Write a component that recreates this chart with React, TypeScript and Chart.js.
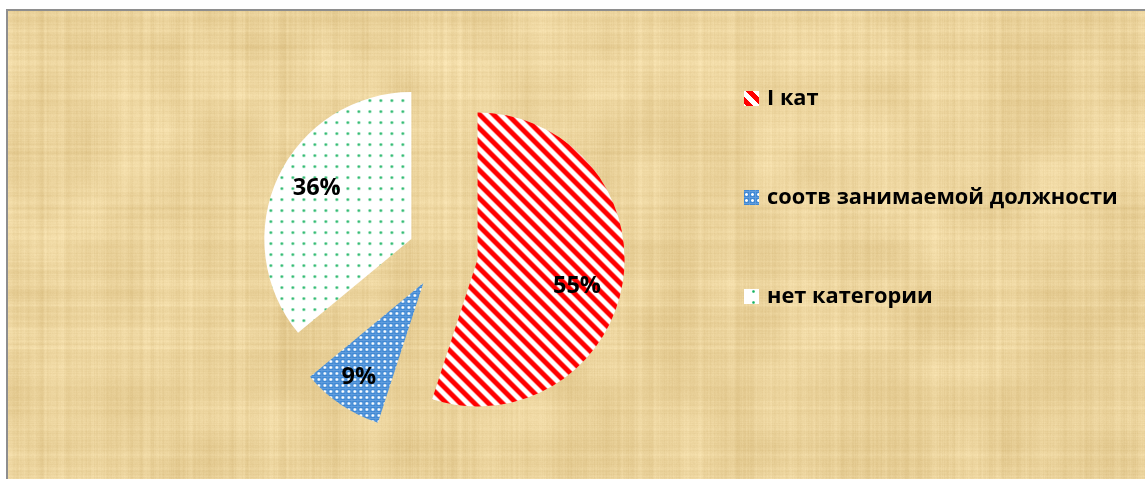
import { useEffect, useRef } from 'react';
import { Chart, registerables } from 'chart.js';

Chart.register(...registerables);

// ---- data ----
const categories = ['I кат', 'соотв занимаемой должности', 'нет категории'];
const shares = [55, 9, 36];
const percentLabels = ['55%', '9%', '36%'];

// ---- style constants ----
const W = 1145;
const H = 479;
const EXPLODE = 35;
const RADIUS = 147;
const LABEL_RADIUS = [0.7, 0.78, 0.73];
const LABEL_ANGLE_SHIFT = [6, 0, 3];
const LEGEND_Y = [99, 198, 297];
const LEGEND_X = 744;
const LEGEND_TEXT_X = 767;
const LEGEND_FONT = "bold 21.8px 'Open Sans'";
const LABEL_FONT = "bold 23.5px 'Open Sans'";

function makeRng(seed: number) {
  let s = seed >>> 0;
  return () => {
    s = (Math.imul(s, 1664525) + 1013904223) >>> 0;
    return s / 4294967296;
  };
}

function makeTile(size: number, fn: (x: number, y: number) => [number, number, number]) {
  const c = document.createElement('canvas');
  c.width = size;
  c.height = size;
  const g = c.getContext('2d')!;
  const img = g.createImageData(size, size);
  for (let y = 0; y < size; y++) {
    for (let x = 0; x < size; x++) {
      const [r, gg, b] = fn(x, y);
      const i = (y * size + x) * 4;
      img.data[i] = r;
      img.data[i + 1] = gg;
      img.data[i + 2] = b;
      img.data[i + 3] = 255;
    }
  }
  g.putImageData(img, 0, 0);
  return c;
}

function mix(a: [number, number, number], b: [number, number, number], t: number): [number, number, number] {
  return [a[0] + (b[0] - a[0]) * t, a[1] + (b[1] - a[1]) * t, a[2] + (b[2] - a[2]) * t];
}

function makePatterns(ctx: CanvasRenderingContext2D) {
  const white: [number, number, number] = [255, 255, 255];
  const red: [number, number, number] = [255, 0, 0];
  const P = 14;
  const stripe = makeTile(P, (x, y) => {
    const t = (((x - y) % P) + P) % P;
    const d = Math.min(t, P - t);
    const a = Math.max(0, Math.min(1, 4 - d));
    return mix(white, red, a);
  });
  const blue = makeTile(6, (x, y) => {
    const dx = Math.abs(x - 2);
    const dy = Math.abs(y - 2);
    if (dx + dy === 0) return [255, 255, 255];
    if ((dx === 1 && dy === 0) || (dx === 0 && dy === 1)) return [240, 247, 253];
    if (dx === 1 && dy === 1) return [150, 192, 235];
    if (x === 5 || y === 5) return [96, 156, 220];
    return [62, 136, 212];
  });
  const dots = makeTile(11, (x, y) => {
    const dx = Math.abs(x - 5);
    const dy = Math.abs(y - 5);
    if (dx + dy === 0) return [24, 176, 96];
    if (dx + dy === 1) return [80, 198, 136];
    if (dx === 1 && dy === 1) return [170, 228, 196];
    return [255, 255, 255];
  });
  return [
    ctx.createPattern(stripe, 'repeat')!,
    ctx.createPattern(blue, 'repeat')!,
    ctx.createPattern(dots, 'repeat')!,
  ];
}

function makeTexture(w: number, h: number) {
  const c = document.createElement('canvas');
  c.width = w;
  c.height = h;
  const g = c.getContext('2d')!;
  const img = g.createImageData(w, h);
  const rnd = makeRng(20240611);
  const col = new Float32Array(w);
  const row = new Float32Array(h);
  let v = 0;
  for (let x = 0; x < w; x++) {
    v = v * 0.55 + (rnd() - 0.5) * 9;
    col[x] = v;
  }
  v = 0;
  for (let y = 0; y < h; y++) {
    v = v * 0.55 + (rnd() - 0.5) * 9;
    row[y] = v;
  }
  const bs = 40;
  const bw = Math.ceil(w / bs) + 2;
  const bh = Math.ceil(h / bs) + 2;
  const blocks = new Float32Array(bw * bh);
  for (let i = 0; i < blocks.length; i++) blocks[i] = (rnd() - 0.5) * 16;
  for (let y = 0; y < h; y++) {
    const by = y / bs;
    const y0 = Math.floor(by);
    const fy = by - y0;
    for (let x = 0; x < w; x++) {
      const bx = x / bs;
      const x0 = Math.floor(bx);
      const fx = bx - x0;
      const b00 = blocks[y0 * bw + x0];
      const b10 = blocks[y0 * bw + x0 + 1];
      const b01 = blocks[(y0 + 1) * bw + x0];
      const b11 = blocks[(y0 + 1) * bw + x0 + 1];
      const bl = (b00 * (1 - fx) + b10 * fx) * (1 - fy) + (b01 * (1 - fx) + b11 * fx) * fy;
      const d = col[x] + row[y] + bl + (rnd() - 0.5) * 4;
      const i = (y * w + x) * 4;
      img.data[i] = 235 + d * 0.8;
      img.data[i + 1] = 211 + d;
      img.data[i + 2] = 156 + d * 1.3;
      img.data[i + 3] = 255;
    }
  }
  g.putImageData(img, 0, 0);
  return c;
}

export default function App() {
  const ref = useRef<HTMLCanvasElement>(null);

  useEffect(() => {
    const canvas = ref.current!;
    const ctx0 = canvas.getContext('2d')!;
    const patterns = makePatterns(ctx0);
    const texture = makeTexture(W - 7, H - 10);

    const backgroundPlugin = {
      id: 'paperBackground',
      beforeDraw(chart: any) {
        const ctx = chart.ctx as CanvasRenderingContext2D;
        ctx.save();
        ctx.fillStyle = '#ffffff';
        ctx.fillRect(0, 0, W, H);
        ctx.drawImage(texture, 7, 10);
        ctx.fillStyle = '#8e8e8e';
        ctx.fillRect(6, 9, W - 6, 2);
        ctx.fillRect(6, 9, 2, H - 9);
        ctx.restore();
      },
    };

    const explodePlugin = {
      id: 'explodeSlices',
      beforeDatasetDraw(chart: any, args: any) {
        const ctx = chart.ctx as CanvasRenderingContext2D;
        args.meta.data.forEach((arc: any) => {
          const { startAngle, endAngle } = arc.getProps(['startAngle', 'endAngle'], true);
          const mid = (startAngle + endAngle) / 2;
          ctx.save();
          ctx.translate(Math.cos(mid) * EXPLODE, Math.sin(mid) * EXPLODE);
          arc.draw(ctx);
          ctx.restore();
        });
        return false;
      },
      afterDatasetsDraw(chart: any) {
        const ctx = chart.ctx as CanvasRenderingContext2D;
        const meta = chart.getDatasetMeta(0);
        ctx.save();
        ctx.font = LABEL_FONT;
        ctx.fillStyle = '#000000';
        ctx.textAlign = 'center';
        ctx.textBaseline = 'middle';
        meta.data.forEach((arc: any, i: number) => {
          const { x, y, startAngle, endAngle, outerRadius } = arc.getProps(
            ['x', 'y', 'startAngle', 'endAngle', 'outerRadius'],
            true,
          );
          const mid = (startAngle + endAngle) / 2;
          const cx = x + Math.cos(mid) * EXPLODE;
          const cy = y + Math.sin(mid) * EXPLODE;
          const a = mid + (LABEL_ANGLE_SHIFT[i] * Math.PI) / 180;
          const rr = outerRadius * LABEL_RADIUS[i];
          ctx.fillText(percentLabels[i], cx + Math.cos(a) * rr, cy + Math.sin(a) * rr);
        });
        ctx.restore();
      },
      afterDraw(chart: any) {
        const ctx = chart.ctx as CanvasRenderingContext2D;
        const labels = chart.data.labels as string[];
        ctx.save();
        ctx.font = LEGEND_FONT;
        ctx.textAlign = 'left';
        ctx.textBaseline = 'middle';
        labels.forEach((label, i) => {
          const yc = LEGEND_Y[i];
          ctx.fillStyle = patterns[i];
          ctx.fillRect(LEGEND_X, yc - 8, 15, 15);
          ctx.fillStyle = '#000000';
          ctx.fillText(label, LEGEND_TEXT_X, yc);
        });
        ctx.restore();
      },
    };

    const chart = new Chart(canvas, {
      type: 'pie',
      data: {
        labels: categories,
        datasets: [
          {
            data: shares,
            backgroundColor: patterns as any,
            borderWidth: 0,
            radius: RADIUS,
          } as any,
        ],
      },
      options: {
        animation: false,
        responsive: false,
        devicePixelRatio: 1,
        events: [],
        layout: { padding: { left: 20, right: 279, top: 40, bottom: 11 } },
        plugins: {
          legend: { display: false },
          tooltip: { enabled: false },
        },
      },
      plugins: [backgroundPlugin, explodePlugin],
    });

    return () => chart.destroy();
  }, []);

  return (
    <div style={{ position: 'absolute', left: 0, top: 0, width: W, height: H }}>
      <canvas ref={ref} width={W} height={H} style={{ display: 'block', width: W, height: H }} />
    </div>
  );
}
